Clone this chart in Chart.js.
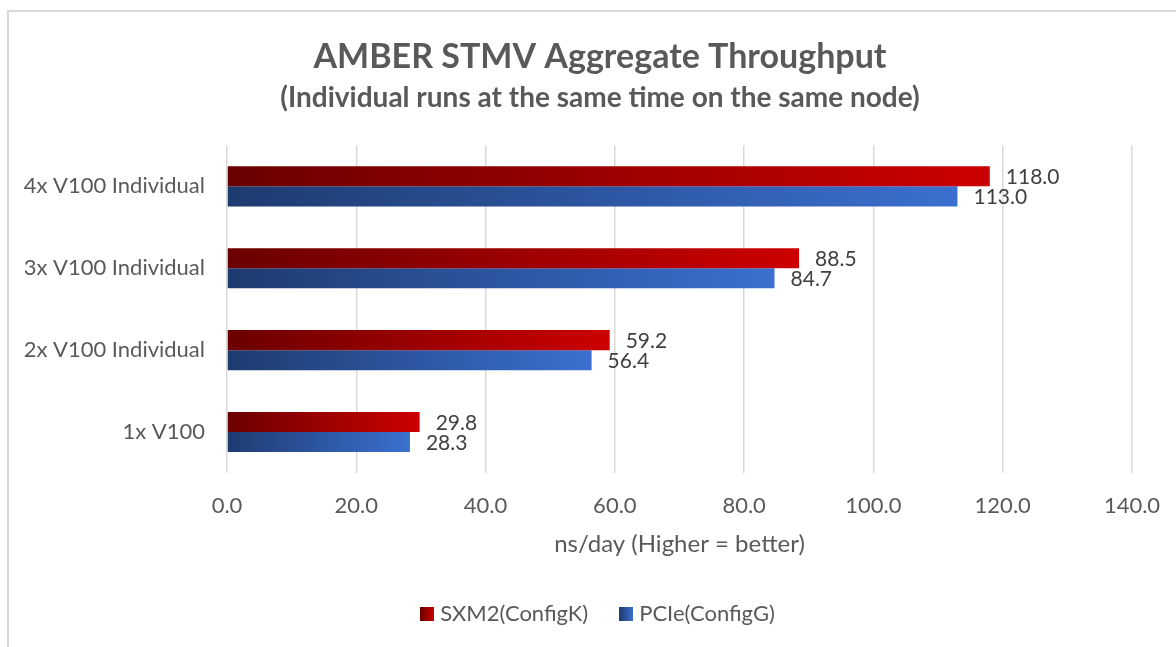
<!DOCTYPE html>
<html>
<head>
<meta charset="utf-8">
<script src="https://cdn.jsdelivr.net/npm/chart.js@4/dist/chart.umd.min.js"></script>
<style>
    html, body { margin: 0; padding: 0; background: #fff; overflow: hidden; width: 1176px; height: 647px; }
    #frame {
        position: absolute; left: 7px; top: 10px; width: 1200px; height: 700px;
        border-left: 2px solid #d9d9d9; border-top: 2px solid #d9d9d9;
    }
    #wrap { position: absolute; left: 0; top: 0; width: 1200px; height: 647px; }
</style>
</head>
<body>
<div id="frame"></div>
<div id="wrap"><canvas id="throughputChart"></canvas></div>
<script>
const categories = ['4x V100 Individual', '3x V100 Individual', '2x V100 Individual', '1x V100'];
const sxm2Values = [118.0, 88.5, 59.2, 29.8];
const pcieValues = [113.0, 84.7, 56.4, 28.3];
const xTicks = [0, 20, 40, 60, 80, 100, 120, 140];

const textColor = '#595959';
const fontFamily = 'Lato, "Liberation Sans", sans-serif';
const redStops = ['#6b0000', '#cc0000'];
const blueStops = ['#1e3b70', '#3b70d0'];

function barGradient(ctx, stops) {
    const chart = ctx.chart;
    if (ctx.type !== 'data' || !chart.chartArea) return stops[1];
    const x = chart.scales.x;
    const x0 = x.getPixelForValue(0);
    const x1 = x.getPixelForValue(ctx.raw);
    const g = chart.ctx.createLinearGradient(x0, 0, x1, 0);
    g.addColorStop(0, stops[0]);
    g.addColorStop(1, stops[1]);
    return g;
}

function legendSwatch(stops) {
    const c = document.createElement('canvas');
    c.width = 14;
    c.height = 14;
    const cx = c.getContext('2d');
    const g = cx.createLinearGradient(0, 0, 14, 0);
    g.addColorStop(0, stops[0]);
    g.addColorStop(1, stops[1]);
    cx.fillStyle = g;
    cx.fillRect(0, 0, 14, 14);
    return c;
}
const swatches = [legendSwatch(redStops), legendSwatch(blueStops)];

// value labels right of each bar
const valueLabels = {
    id: 'valueLabels',
    afterDatasetsDraw(chart) {
        const ctx = chart.ctx;
        ctx.save();
        ctx.font = '21px ' + fontFamily;
        ctx.fillStyle = '#404040';
        ctx.textAlign = 'left';
        ctx.textBaseline = 'middle';
        chart.data.datasets.forEach((ds, i) => {
            chart.getDatasetMeta(i).data.forEach((bar, j) => {
                ctx.fillText(ds.data[j].toFixed(1), bar.x + 16, bar.y + 1);
            });
        });
        ctx.restore();
    }
};

new Chart(document.getElementById('throughputChart'), {
    type: 'bar',
    data: {
        labels: categories,
        datasets: [{
            label: 'SXM2(ConfigK)',
            data: sxm2Values,
            backgroundColor: (c) => barGradient(c, redStops),
            categoryPercentage: 0.49,
            barPercentage: 1.0
        }, {
            label: 'PCIe(ConfigG)',
            data: pcieValues,
            backgroundColor: (c) => barGradient(c, blueStops),
            categoryPercentage: 0.49,
            barPercentage: 1.0
        }]
    },
    options: {
        indexAxis: 'y',
        responsive: true,
        maintainAspectRatio: false,
        animation: false,
        layout: { padding: { left: 0, right: 0, top: 0, bottom: 12 } },
        scales: {
            x: {
                min: 0,
                max: 140,
                afterBuildTicks: (s) => { s.ticks = xTicks.map(v => ({ value: v })); },
                afterFit: (s) => { s.height = 94; },
                ticks: {
                    color: textColor,
                    padding: 20,
                    font: { family: fontFamily, size: 22 },
                    callback: (value) => Number(value).toFixed(1)
                },
                grid: { color: '#d9d9d9', lineWidth: 1.5, drawTicks: false },
                border: { display: false },
                title: {
                    display: true,
                    text: 'ns/day (Higher = better)',
                    color: textColor,
                    font: { family: fontFamily, size: 24 },
                    padding: { top: 0, bottom: 8 }
                }
            },
            y: {
                afterFit: (s) => { s.width = 227; },
                ticks: {
                    color: textColor,
                    padding: 22,
                    font: { family: fontFamily, size: 22 }
                },
                grid: { display: false, drawTicks: false },
                border: { display: false }
            },
            // empty right-hand strip so the titles and legend centre like the original
            yRight: {
                type: 'category',
                position: 'right',
                afterFit: (s) => { s.width = 68; },
                ticks: { display: false },
                grid: { display: false, drawTicks: false },
                border: { display: false }
            }
        },
        plugins: {
            title: {
                display: true,
                text: 'AMBER STMV Aggregate Throughput',
                color: textColor,
                font: { family: fontFamily, size: 34, weight: 'bold' },
                padding: { top: 37, bottom: 3 }
            },
            subtitle: {
                display: true,
                text: '(Individual runs at the same time on the same node)',
                color: textColor,
                font: { family: fontFamily, size: 28, weight: 'bold' },
                padding: { top: 0, bottom: 31 }
            },
            legend: {
                position: 'bottom',
                labels: {
                    color: textColor,
                    font: { family: fontFamily, size: 22 },
                    usePointStyle: true,
                    pointStyleWidth: 4,
                    padding: 36,
                    generateLabels: (chart) => chart.data.datasets.map((ds, i) => ({
                        text: ds.label,
                        pointStyle: swatches[i],
                        fontColor: textColor,
                        lineWidth: 0,
                        datasetIndex: i
                    }))
                }
            },
            tooltip: { enabled: false }
        }
    },
    plugins: [valueLabels]
});
</script>
</body>
</html>
